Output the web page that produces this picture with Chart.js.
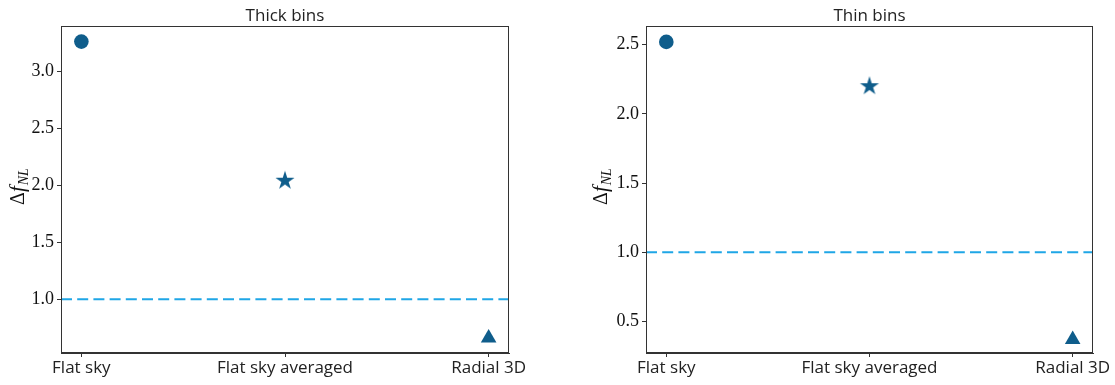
<!DOCTYPE html>
<html>
<head>
<meta charset="utf-8">
<script src="https://cdn.jsdelivr.net/npm/chart.js@4.4.1/dist/chart.umd.min.js"></script>
<style>
  body { margin: 0; background: #fff; }
  #wrap { position: relative; width: 1115px; height: 385px; }
  .panel { position: absolute; top: 0; height: 385px; }
</style>
</head>
<body>
<div id="wrap">
  <div class="panel" style="left:0;width:557px"><canvas id="thickChart"></canvas></div>
  <div class="panel" style="left:557px;width:558px"><canvas id="thinChart"></canvas></div>
</div>
<script>
// dati
const methods = ["Flat sky", "Flat sky averaged", "Radial 3D"];
const thickValues = [3.26, 2.04, 0.66];
const thinValues = [2.52, 2.20, 0.37];
const referenceLine = 1.0;
const thickTicks = [1.0, 1.5, 2.0, 2.5, 3.0];
const thinTicks = [0.5, 1.0, 1.5, 2.0, 2.5];

const markerColor = "#0f5d8b";
const dashColor = "#1fa6e6";
const axisColor = "#333333";
const serif = "'Liberation Serif', serif";
const sans = "'Open Sans', sans-serif";

// stella piena a 5 punte (quella di Chart.js e' solo contorno)
function makeStar(r) {
    const c = document.createElement('canvas');
    c.width = c.height = Math.ceil(r * 2 + 2);
    const g = c.getContext('2d');
    const cx = c.width / 2, cy = c.height / 2;
    g.beginPath();
    for (let i = 0; i < 10; i++) {
        const rad = i % 2 === 0 ? r : r * 0.382;
        const a = -Math.PI / 2 + i * Math.PI / 5;
        g.lineTo(cx + rad * Math.cos(a), cy + rad * Math.sin(a));
    }
    g.closePath();
    g.fillStyle = markerColor;
    g.fill();
    return c;
}
const star = makeStar(10);

// cornice, titolo centrato sugli assi + etichetta asse y (Delta f_NL)
const framePlugin = {
    id: 'frame',
    afterDraw(chart, args, opts) {
        const { ctx, chartArea: a } = chart;
        ctx.save();
        ctx.strokeStyle = axisColor;
        ctx.lineWidth = 1;
        ctx.strokeRect(a.left + 0.5, a.top + 0.5, a.right - a.left - 1, a.bottom - a.top - 1);

        ctx.fillStyle = '#222';
        ctx.font = "17px " + sans;
        ctx.textAlign = 'center';
        ctx.textBaseline = 'alphabetic';
        ctx.fillText(opts.title, (a.left + a.right) / 2, 21);

        ctx.translate(opts.labelX, opts.labelY);
        ctx.rotate(-Math.PI / 2);
        ctx.fillStyle = '#111';
        ctx.textAlign = 'left';
        const parts = [
            { t: "Δ", f: "20px " + serif, dy: 0 },
            { t: "f", f: "italic 21px " + serif, dy: 0 },
            { t: "NL", f: "italic 14px " + serif, dy: 4 }
        ];
        let w = 0;
        parts.forEach(p => { ctx.font = p.f; p.w = ctx.measureText(p.t).width; w += p.w; });
        let x = -w / 2;
        parts.forEach(p => { ctx.font = p.f; ctx.fillText(p.t, x, 7 + p.dy); x += p.w + (p.t === "f" ? 1 : 0); });
        ctx.restore();
    }
};

function makeChart(id, title, values, yTicks, yMin, yMax, padRight, yWidth, labelX) {
    const ctx = document.getElementById(id).getContext('2d');
    return new Chart(ctx, {
        type: 'scatter',
        data: {
            datasets: [
                {
                    data: values.map((v, i) => ({ x: i, y: v })),
                    pointStyle: ['circle', star, 'triangle'],
                    pointRadius: [7.3, 10, 9],
                    backgroundColor: markerColor,
                    borderColor: markerColor,
                    borderWidth: 0,
                    order: 1
                },
                {
                    type: 'line',
                    data: [{ x: -0.1, y: referenceLine }, { x: 2.1, y: referenceLine }],
                    borderColor: dashColor,
                    borderWidth: 2,
                    borderDash: [11, 5.2],
                    pointRadius: 0,
                    order: 2
                }
            ]
        },
        options: {
            responsive: true,
            maintainAspectRatio: false,
            animation: false,
            layout: { padding: { left: 0, right: padRight, top: 26, bottom: 0 } },
            plugins: {
                legend: { display: false },
                tooltip: { enabled: false },
                title: { display: false },
                frame: { title: title, labelX: labelX, labelY: 187 }
            },
            scales: {
                x: {
                    type: 'linear', min: -0.1, max: 2.1,
                    afterBuildTicks: s => { s.ticks = methods.map((m, i) => ({ value: i })); },
                    afterFit: s => { s.height = 32; },
                    ticks: {
                        autoSkip: false, maxRotation: 0, padding: 1, color: '#222',
                        font: { family: sans, size: 17 },
                        callback: v => methods[v]
                    },
                    grid: { drawOnChartArea: false, drawTicks: true, tickLength: 4, color: axisColor },
                    border: { color: axisColor }
                },
                y: {
                    min: yMin, max: yMax,
                    afterBuildTicks: s => { s.ticks = yTicks.map(v => ({ value: v })); },
                    afterFit: s => { s.width = yWidth; },
                    ticks: {
                        padding: 3, color: '#111',
                        font: { family: serif, size: 18 },
                        callback: v => Number(v).toFixed(1)
                    },
                    grid: { drawOnChartArea: false, drawTicks: true, tickLength: 4, color: axisColor },
                    border: { color: axisColor }
                }
            }
        },
        plugins: [framePlugin]
    });
}

makeChart('thickChart', 'Thick bins', thickValues, thickTicks, 0.529, 3.397, 48, 61, 17);
makeChart('thinChart', 'Thin bins', thinValues, thinTicks, 0.273, 2.635, 22, 89, 43);
</script>
</body>
</html>
